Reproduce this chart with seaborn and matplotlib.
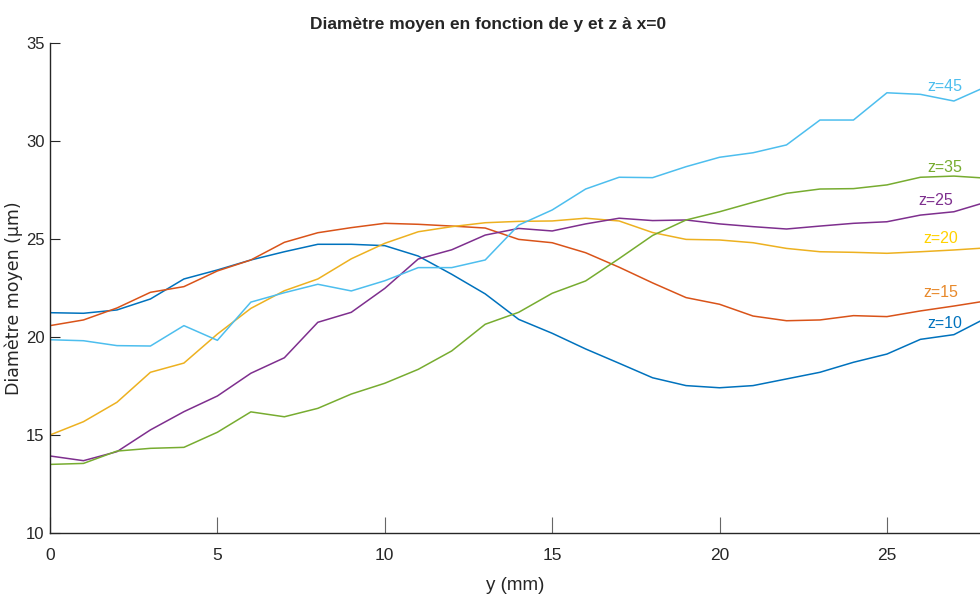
import matplotlib
matplotlib.use("Agg")
import matplotlib.pyplot as plt
import seaborn as sns
import pandas as pd
import numpy as np

y_mm = list(range(29))

d_z10 = [21.24, 21.21, 21.38, 21.94, 22.96, 23.42, 23.93, 24.35, 24.73, 24.73,
         24.66, 24.13, 23.2, 22.2, 20.9, 20.19, 19.39, 18.66, 17.92, 17.52,
         17.41, 17.52, 17.86, 18.2, 18.71, 19.13, 19.88, 20.12, 21.0]
d_z15 = [20.58, 20.87, 21.48, 22.28, 22.57, 23.37, 23.93, 24.83, 25.32, 25.58,
         25.80, 25.75, 25.66, 25.56, 24.98, 24.81, 24.30, 23.56, 22.76, 22.01,
         21.67, 21.07, 20.83, 20.87, 21.09, 21.04, 21.33, 21.58, 21.85]
d_z20 = [15.0, 15.68, 16.67, 18.2, 18.67, 20.15, 21.46, 22.36, 22.96, 23.99,
         24.78, 25.37, 25.63, 25.83, 25.9, 25.92, 26.06, 25.92, 25.33, 24.98,
         24.95, 24.81, 24.52, 24.35, 24.32, 24.27, 24.35, 24.44, 24.55]
d_z25 = [13.93, 13.69, 14.15, 15.26, 16.19, 16.99, 18.15, 18.94, 20.75, 21.26,
         22.48, 23.98, 24.45, 25.2, 25.54, 25.41, 25.77, 26.06, 25.94, 25.97,
         25.77, 25.63, 25.51, 25.66, 25.80, 25.88, 26.22, 26.39, 26.9]
d_z35 = [13.5, 13.55, 14.18, 14.32, 14.37, 15.14, 16.18, 15.93, 16.36, 17.09,
         17.64, 18.35, 19.29, 20.65, 21.26, 22.23, 22.86, 24.0, 25.18, 25.97,
         26.39, 26.87, 27.33, 27.55, 27.57, 27.76, 28.15, 28.21, 28.1]
d_z45 = [19.86, 19.81, 19.56, 19.54, 20.58, 19.83, 21.78, 22.26, 22.69, 22.35,
         22.87, 23.54, 23.54, 23.93, 25.71, 26.48, 27.55, 28.15, 28.13, 28.69,
         29.17, 29.40, 29.8, 31.07, 31.07, 32.46, 32.38, 32.04, 32.8]

z_labels = ["z=10", "z=15", "z=20", "z=25", "z=35", "z=45"]
series = [d_z10, d_z15, d_z20, d_z25, d_z35, d_z45]
line_colors = ["#0072BD", "#D95319", "#EDB120", "#7E2F8E", "#77AC30", "#4DBEEE"]
text_colors = ["#0072BD", "#E8892B", "#FFD200", "#7E2F8E", "#77AC30", "#4DBEEE"]
label_x = [26.72, 26.6, 26.6, 26.45, 26.72, 26.72]
label_y = [20.7, 22.25, 25.05, 26.95, 28.65, 32.8]

df = pd.DataFrame({
    "y": np.tile(y_mm, len(series)),
    "d": np.concatenate(series),
    "z": np.repeat(z_labels, len(y_mm)),
})

sns.set_style("white")
cond = ["Liberation Sans", "DejaVu Sans"]
plt.rcParams["font.family"] = cond

fig = plt.figure(figsize=(9.8, 6.02), dpi=100)
ax = fig.add_axes([50 / 980, 69 / 602, 930 / 980, 490 / 602])

sns.lineplot(data=df, x="y", y="d", hue="z", palette=dict(zip(z_labels, line_colors)),
             ax=ax, linewidth=1.1, legend=False)

for lab, lx, ly, c in zip(z_labels, label_x, label_y, text_colors):
    ax.text(lx, ly, lab, color=c, fontsize=11.5, ha="center", va="center", family=cond)

ax.set_xlim(0, 27.78)
ax.set_ylim(10, 35)
ax.set_xticks([0, 5, 10, 15, 20, 25])
ax.set_yticks([10, 15, 20, 25, 30, 35])
for s in ["top", "right"]:
    ax.spines[s].set_visible(False)
for s in ["left", "bottom"]:
    ax.spines[s].set_color("#262626")
    ax.spines[s].set_linewidth(1.0)
ax.tick_params(axis="x", bottom=True, direction="in", length=11.5, width=0.8, color="#666666",
               labelsize=12.5, labelcolor="#262626", pad=11)
ax.tick_params(axis="y", left=True, direction="in", length=7.2, width=0.8, color="#262626",
               labelsize=12, labelcolor="#262626", pad=4)
ax.set_xlabel("y (mm)", fontsize=13.5, color="#262626", labelpad=10)
ax.set_ylabel("Diamètre moyen (µm)", fontsize=12.5, color="#262626", family=["DejaVu Sans"])
ax.yaxis.set_label_coords(-0.0285, 0.48)
fig.text(488 / 980, 1 - 25 / 602, "Diamètre moyen en fonction de y et z à x=0",
         fontsize=12.5, fontweight="bold", ha="center", va="center", family=cond)

fig.savefig("out.png", dpi=100)
